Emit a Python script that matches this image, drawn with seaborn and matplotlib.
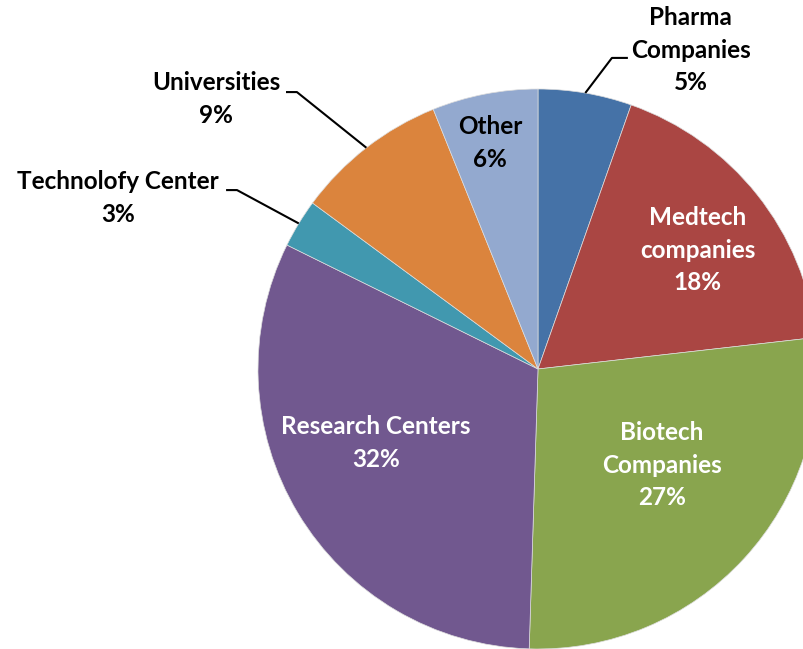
import matplotlib
matplotlib.use('Agg')

import numpy as np
import matplotlib.pyplot as plt
import seaborn as sns

sns.set_theme(style="white")
plt.rcParams['font.family'] = ['Lato', 'DejaVu Sans']

# Data (clockwise from 12 o'clock)
categories = ['Pharma\nCompanies', 'Medtech\ncompanies', 'Biotech\nCompanies',
              'Research Centers', 'Technolofy Center', 'Universities', 'Other']
shares = [5.4, 17.8, 27.3, 31.8, 2.8, 8.8, 6.1]
colors = ['#4572A7', '#AA4643', '#89A54E', '#71588F', '#4198AF', '#DB843D', '#93A9CF']

# label placement (data coords, pie radius = 1) and text colour
label_pos = [(0.546, 1.139), (0.571, 0.425), (0.443, -0.343), (-0.579, -0.264),
             (-1.50, 0.611), (-1.15, 0.964), (-0.171, 0.807)]
label_col = ['black', 'white', 'white', 'white', 'black', 'black', 'black']
# leader lines: (elbow, end) for outside labels
leaders = {0: [(0.264, 1.111), (0.321, 1.111)],
           4: [(-1.075, 0.639), (-1.114, 0.639)],
           5: [(-0.861, 0.989), (-0.900, 0.989)]}

fig = plt.figure(figsize=(8.04, 6.49), dpi=100)
ax = fig.add_axes([0, 0, 1, 1])

wedges, _ = ax.pie(shares, colors=colors, startangle=90, counterclock=False,
                   radius=1.0, wedgeprops=dict(edgecolor='#dddddd', linewidth=0.5))

total = sum(shares)
for i, w in enumerate(wedges):
    pct = shares[i] / total * 100
    x, y = label_pos[i]
    ax.text(x, y, f"{categories[i]}\n{pct:.0f}%", ha='center', va='center',
            fontsize=17.5, fontweight='bold', color=label_col[i], linespacing=1.5)
    if i in leaders:
        mid = np.deg2rad((w.theta1 + w.theta2) / 2)
        pts = [(np.cos(mid), np.sin(mid))] + leaders[i]
        xs, ys = zip(*pts)
        ax.plot(xs, ys, color='black', lw=1.5, solid_capstyle='butt')

ax.set_xlim(-538 / 280, 266 / 280)
ax.set_ylim(-280 / 280, 369 / 280)
ax.set_aspect('equal')
ax.axis('off')

fig.savefig('out.png', dpi=100)
